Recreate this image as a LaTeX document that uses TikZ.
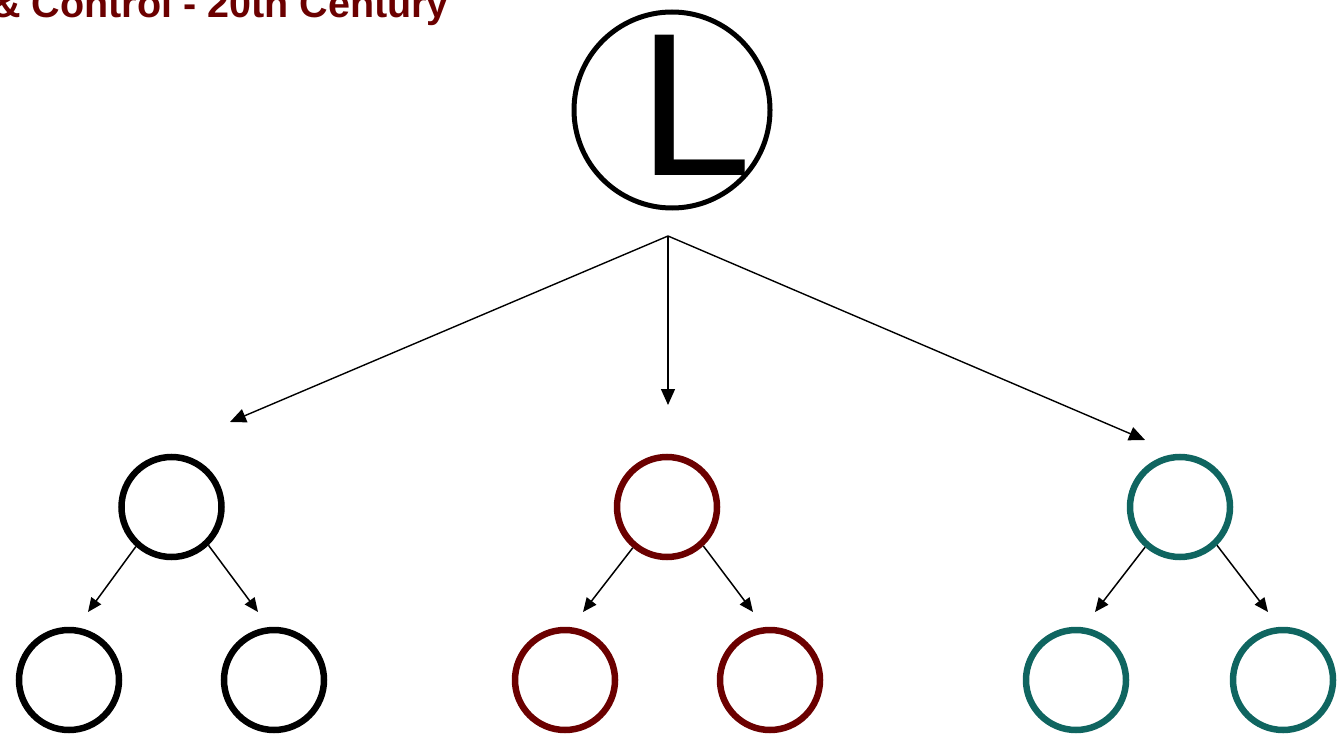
\documentclass[tikz,border=0pt]{standalone}
\usepackage{fontspec}
\setmainfont{Liberation Sans}
\usetikzlibrary{arrows.meta}
\definecolor{cred}{HTML}{6B0000}
\definecolor{cteal}{HTML}{0F6560}
\begin{document}
\begin{tikzpicture}[x=1pt,y=-1pt,
  ring/.style={circle,draw,inner sep=0pt,minimum size=100pt,line width=6.5pt},
  bigarrow/.style={line width=1.4pt,-{Triangle[length=16pt,width=14pt]}},
  smallarrow/.style={line width=1.5pt,-{Triangle[length=14pt,width=12pt]}}]
\useasboundingbox (0,0) rectangle (1340,735);
\clip (0,0) rectangle (1340,735);
% title
\node[anchor=base east,inner sep=0pt,text=cred,font=\fontsize{39.5}{42}\selectfont\bfseries] (title) at (449,18) {\& Control - 20th Century};
% leader
\node[circle,draw,line width=5pt,inner sep=0pt,minimum size=196pt] (top) at (672,110) {};
\node[anchor=base west,inner sep=0pt,font=\fontsize{204}{204}\selectfont] (L) at (638,176) {L};
\coordinate (hub) at (668,236);
\coordinate (e1) at (230,422);
\coordinate (e2) at (668,405);
\coordinate (e3) at (1145,440);
\draw[bigarrow] (hub) -- (e1);
\draw[bigarrow] (hub) -- (e2);
\draw[bigarrow] (hub) -- (e3);
% middle row
\node[ring,draw=black] (m1) at (171.5,507) {};
\node[ring,draw=cred] (m2) at (667,507) {};
\node[ring,draw=cteal] (m3) at (1180,507) {};
% bottom row
\node[ring,draw=black] (b1) at (69,680) {};
\node[ring,draw=black] (b2) at (274,680) {};
\node[ring,draw=cred] (b3) at (565,680) {};
\node[ring,draw=cred] (b4) at (770,680) {};
\node[ring,draw=cteal] (b5) at (1076,680) {};
\node[ring,draw=cteal] (b6) at (1283,680) {};
% small arrows
\coordinate (t1) at (88,612);
\coordinate (t2) at (258,612);
\coordinate (t3) at (583,612);
\coordinate (t4) at (753,612);
\coordinate (t5) at (1095,612);
\coordinate (t6) at (1268,612);
\draw[smallarrow] (m1.228) -- (t1);
\draw[smallarrow] (m1.314) -- (t2);
\draw[smallarrow] (m2.230) -- (t3);
\draw[smallarrow] (m2.313) -- (t4);
\draw[smallarrow] (m3.229) -- (t5);
\draw[smallarrow] (m3.314) -- (t6);
\end{tikzpicture}
\end{document}
